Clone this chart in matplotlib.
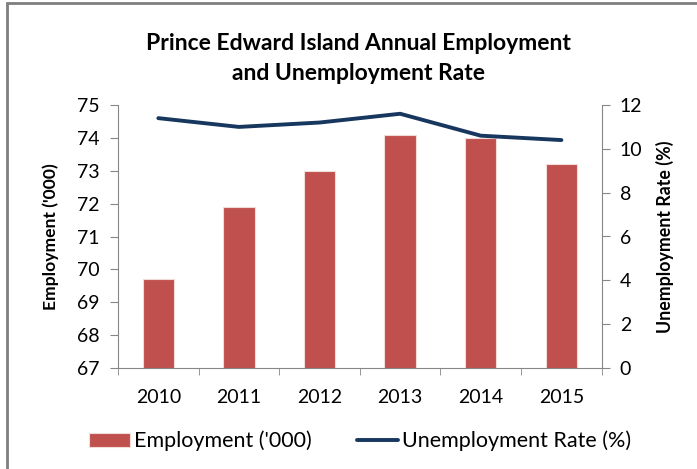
import matplotlib

matplotlib.use("Agg")
import matplotlib.pyplot as plt
import numpy as np
from matplotlib.patches import Rectangle

years = ["2010", "2011", "2012", "2013", "2014", "2015"]
employment = [69.7, 71.9, 73.0, 74.1, 74.0, 73.2]
unemployment_rate = [11.4, 11.0, 11.2, 11.6, 10.6, 10.4]

plt.rcParams["font.family"] = ["Lato", "DejaVu Sans"]

BAR_RED = "#C0504D"
LINE_BLUE = "#17375E"
SPINE_GRAY = "#868686"


def main() -> None:
    fig = plt.figure(figsize=(6.97, 4.69), dpi=100)
    ax = fig.add_axes([118 / 697, 1 - 368 / 469, (601.7 - 118) / 697, (368 - 105) / 469])
    ax2 = ax.twinx()

    x = np.arange(len(years))
    bars = ax.bar(x, employment, width=0.39, color=BAR_RED, edgecolor="#F2DCDB",
                  linewidth=0.8, label="Employment ('000)", zorder=2)
    (line,) = ax2.plot(x, unemployment_rate, color=LINE_BLUE, linewidth=2.8,
                       solid_capstyle="round", label="Unemployment Rate (%)", zorder=3)

    ax.set_xlim(-0.5, len(years) - 0.5)
    ax.set_ylim(67, 75)
    ax.set_yticks(range(67, 76))
    ax2.set_ylim(0, 12)
    ax2.set_yticks(range(0, 13, 2))

    ax.set_xticks(x)
    ax.set_xticklabels(years)
    ax.set_xticks(np.arange(-0.5, len(years)), minor=True)
    ax.tick_params(axis="x", which="major", length=0, pad=15, labelsize=14)
    ax.tick_params(axis="x", which="minor", length=5, direction="out", color=SPINE_GRAY)
    ax.tick_params(axis="y", length=6, direction="out", color=SPINE_GRAY, labelsize=14, pad=7)
    ax2.tick_params(axis="y", length=6, direction="out", color=SPINE_GRAY, labelsize=14, pad=7)

    for a in (ax, ax2):
        a.spines["top"].set_visible(False)
        for side in ("left", "right", "bottom"):
            a.spines[side].set_color(SPINE_GRAY)
    ax.spines["right"].set_visible(False)
    ax2.spines["left"].set_visible(False)
    ax2.spines["bottom"].set_visible(False)

    ax.set_ylabel("Employment ('000)", fontsize=12.6, fontweight="bold", va="center")
    ax2.set_ylabel("Unemployment Rate (%)", fontsize=12.8, fontweight="bold", va="center")
    # pin the axis titles where the reference has them (pixel centres 51 and 665)
    ax.yaxis.set_label_coords((51 - 118) / 483.7, 0.5)
    ax2.yaxis.set_label_coords((665 - 118) / 483.7, 0.5)

    fig.text(358 / 697, 1 - 58.5 / 469,
             "Prince Edward Island Annual Employment\nand Unemployment Rate",
             ha="center", va="center", fontsize=16.5, fontweight="bold", linespacing=1.55)

    fig.legend(handles=[bars, line], loc="center", bbox_to_anchor=(360 / 697, 1 - 441 / 469),
               ncol=2, frameon=False, fontsize=15.5, handlelength=1.9, handleheight=0.65,
               handletextpad=0.2, columnspacing=2.1)

    fig.patches.append(Rectangle((7 / 697, -0.1), 1.2, 1 - 3 / 469 + 0.1,
                                 transform=fig.transFigure, fill=False,
                                 edgecolor="#7F7F7F", linewidth=2, zorder=10))

    fig.savefig("out.png", dpi=100)
    plt.close(fig)


if __name__ == "__main__":
    main()
